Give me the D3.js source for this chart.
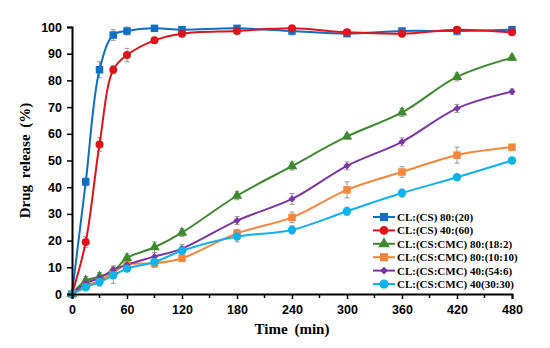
<!DOCTYPE html>
<html>
<head>
<meta charset="utf-8">
<script src="https://cdn.jsdelivr.net/npm/d3@7"></script>
<style>
  body { margin: 0; background: #fff; }
  svg text { fill: #000; }
</style>
</head>
<body>
<svg id="chart" width="550" height="348"></svg>
<script>
// time points (min)
const times = [0, 15, 30, 45, 60, 90, 120, 180, 240, 300, 360, 420, 480];
const xTicks = [0, 60, 120, 180, 240, 300, 360, 420, 480];
const yTicks = [0, 10, 20, 30, 40, 50, 60, 70, 80, 90, 100];

const seriesNames = [
  "CL:(CS) 80:(20)",
  "CL:(CS) 40:(60)",
  "CL:(CS:CMC) 80:(18:2)",
  "CL:(CS:CMC) 80:(10:10)",
  "CL:(CS:CMC) 40:(54:6)",
  "CL:(CS:CMC) 40(30:30)"
];

const cs80 = [0, 42, 84, 97, 98.5, 99.5, 99, 99.5, 98.5, 97.5, 98.5, 98.5, 99];
const cs40 = [0, 19.5, 56, 84, 89.5, 95, 97.5, 98.5, 99.5, 98, 97.5, 99, 98];
const cmc80_18 = [0, 5, 6.5, 8.5, 13.5, 17.5, 23, 36.8, 47.9, 59, 68, 81.3, 88.5];
const cmc80_10 = [0, 3, 5, 8, 11, 11.5, 13.4, 22.7, 28.7, 39, 45.7, 52, 55];
const cmc40_54 = [0, 4, 6, 9, 11, 14, 17, 27.5, 35.6, 48, 57, 69.5, 75.8];
const cmc40_30 = [0, 2.5, 4.5, 7, 9.5, 12, 16.2, 21.5, 24, 31, 37.8, 43.7, 50];

// error bar half-widths (estimated)
const err80 = [0, 1.5, 3, 2, 1.5, 1, 1, 1, 1.5, 1, 1, 1.5, 1];
const err40 = [0, 2, 2.5, 1.5, 2.5, 1, 1, 1, 1, 1, 1, 1, 1];
const err18 = [0, 1.5, 1.5, 1.5, 1.5, 2, 1.5, 1.5, 1.5, 1, 1.5, 1.5, 1];
const err10 = [0, 1, 1, 1.5, 1, 1, 1, 1.5, 2, 3, 2, 3, 1];
const err54 = [0, 1, 1, 1.5, 1, 1.5, 1.5, 1.5, 2, 1.5, 1.5, 1.5, 1];
const err30 = [0, 1, 1.5, 3, 1, 2, 1.5, 2, 1.5, 1.5, 1.5, 1, 1];

const colors = ["#0F6FC6", "#E0141B", "#3F8A2F", "#F7873A", "#7E35A3", "#0FB3EC"];
const shapes = [d3.symbolSquare, d3.symbolCircle, d3.symbolTriangle, d3.symbolSquare, d3.symbolSquare, d3.symbolCircle];
const sizes = [56, 50, 48, 56, 26, 56];
const rotations = [0, 0, 0, 0, 45, 0];

const allValues = [cs80, cs40, cmc80_18, cmc80_10, cmc40_54, cmc40_30];
const allErrors = [err80, err40, err18, err10, err54, err30];

const series = seriesNames.map((name, i) => ({
  name,
  color: colors[i],
  shape: shapes[i],
  size: sizes[i],
  rot: rotations[i],
  points: times.map((t, j) => ({ t, v: allValues[i][j], e: allErrors[i][j] }))
}));

const svg = d3.select("#chart");
const margin = { left: 72, right: 38, top: 27, bottom: 54 };
const width = 550, height = 348;

const x = d3.scaleLinear().domain([0, 480]).range([margin.left, width - margin.right]);
const y = d3.scaleLinear().domain([0, 100]).range([height - margin.bottom, margin.top]);

// error bars
const errG = svg.append("g");
series.forEach(s => {
  s.points.filter(p => p.e > 0).forEach(p => {
    const g = errG.append("g").attr("stroke", "#999").attr("stroke-width", 1);
    g.append("line").attr("x1", x(p.t)).attr("x2", x(p.t)).attr("y1", y(p.v - p.e)).attr("y2", y(p.v + p.e));
    g.append("line").attr("x1", x(p.t) - 2.5).attr("x2", x(p.t) + 2.5).attr("y1", y(p.v - p.e)).attr("y2", y(p.v - p.e));
    g.append("line").attr("x1", x(p.t) - 2.5).attr("x2", x(p.t) + 2.5).attr("y1", y(p.v + p.e)).attr("y2", y(p.v + p.e));
  });
});

// lines
const line = d3.line().x(d => x(d.t)).y(d => y(d.v)).curve(d3.curveCatmullRom.alpha(0.5));
const lineG = svg.append("g");
series.forEach(s => {
  lineG.append("path")
    .attr("d", line(s.points))
    .attr("fill", "none")
    .attr("stroke", s.color)
    .attr("stroke-width", 2);
});

// markers
series.forEach(s => {
  svg.append("g").selectAll("path")
    .data(s.points)
    .enter()
    .append("path")
    .attr("transform", d => `translate(${x(d.t)},${y(d.v)}) rotate(${s.rot})`)
    .attr("d", d3.symbol().type(s.shape).size(s.size))
    .attr("fill", s.color);
});

// axes
const xAxisG = svg.append("g").attr("transform", `translate(0,${y(0)})`);
xAxisG.call(d3.axisBottom(x).tickValues(xTicks).tickSize(5).tickPadding(6));
xAxisG.append("g").selectAll("line")
  .data(d3.range(30, 480, 60))
  .enter().append("line")
  .attr("x1", d => x(d)).attr("x2", d => x(d))
  .attr("y1", 0).attr("y2", 4)
  .attr("stroke", "#000").attr("stroke-width", 1.5);

const yAxisG = svg.append("g").attr("transform", `translate(${x(0)},0)`);
yAxisG.call(d3.axisLeft(y).tickValues(yTicks).tickSize(5).tickPadding(5));

[xAxisG, yAxisG].forEach(g => {
  g.select(".domain").attr("stroke", "#000").attr("stroke-width", 2);
  g.selectAll(".tick line").attr("stroke", "#000").attr("stroke-width", 1.5);
  g.selectAll(".tick text")
    .attr("font-family", "Arial, 'Liberation Sans', sans-serif")
    .attr("font-weight", "bold")
    .attr("font-size", 12.5)
    .attr("fill", "#222");
});

// axis titles
svg.append("text")
  .attr("x", x(240))
  .attr("y", 334)
  .attr("text-anchor", "middle")
  .attr("font-family", "'Times New Roman', 'Liberation Serif', serif")
  .attr("font-weight", "bold")
  .attr("font-size", 15)
  .attr("word-spacing", 3)
  .text("Time (min)");

svg.append("text")
  .attr("transform", `translate(30,${y(50)}) rotate(-90)`)
  .attr("text-anchor", "middle")
  .attr("font-family", "'Times New Roman', 'Liberation Serif', serif")
  .attr("font-weight", "bold")
  .attr("font-size", 15)
  .attr("word-spacing", 3)
  .text("Drug release (%)");

// legend
const legendG = svg.append("g").attr("transform", "translate(373,217)");
series.forEach((s, i) => {
  const row = legendG.append("g").attr("transform", `translate(0,${i * 13.4})`);
  row.append("line").attr("x1", 0).attr("x2", 22).attr("y1", 0).attr("y2", 0)
    .attr("stroke", s.color).attr("stroke-width", 2);
  row.append("path")
    .attr("transform", `translate(11,0) rotate(${s.rot})`)
    .attr("d", d3.symbol().type(s.shape).size(s.size * 1.2))
    .attr("fill", s.color);
  row.append("text")
    .attr("x", 24)
    .attr("y", 4)
    .attr("font-family", "'Times New Roman', 'Liberation Serif', serif")
    .attr("font-weight", "bold")
    .attr("font-size", 11)
    .text(s.name);
});
</script>
</body>
</html>
